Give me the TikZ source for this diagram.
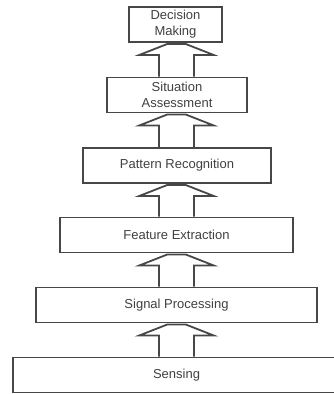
\documentclass[tikz,border=0pt]{standalone}
\usepackage{fontspec}
\setmainfont{Liberation Sans}
\usetikzlibrary{calc}
\begin{document}
\begin{tikzpicture}[x=1pt,y=-1pt,
  stage/.style={draw=black!72, line width=1.8pt, minimum height=35pt, inner sep=0pt,
    align=center, text=black!75, font=\fontsize{13}{16}\selectfont},
  blockarrow/.style={draw=black!72, line width=1.8pt, line join=miter}]
\useasboundingbox (0,0) rectangle (334,394);
\clip (0,0) rectangle (334,394);
\node[stage, minimum width=93pt]  (dm) at (175.5,24.5) {Decision\\Making};
\node[stage, minimum width=140pt] (sa) at (177,95) {Situation\\Assessment};
\node[stage, minimum width=188pt] (pr) at (177,165.5) {Pattern Recognition};
\node[stage, minimum width=233pt] (fe) at (176.5,235) {Feature Extraction};
\node[stage, minimum width=281pt] (sp) at (176.5,305) {Signal Processing};
\node[stage, minimum width=327pt] (se) at (176.5,375) {Sensing};
\foreach \lo/\up in {sa/dm, pr/sa, fe/pr, sp/fe, se/sp}{
  \draw[blockarrow]
    ($(\lo.north -| 176.5,0)+(-17.5,0)$) -- ($(\up.south -| 176.5,0)+(-17.5,12)$)
    -- ($(\up.south -| 176.5,0)+(-37,12)$) -- ($(\up.south -| 176.5,0)+(-9,1)$)
    -- ($(\up.south -| 176.5,0)+(9,1)$) -- ($(\up.south -| 176.5,0)+(37,12)$)
    -- ($(\up.south -| 176.5,0)+(17.5,12)$) -- ($(\lo.north -| 176.5,0)+(17.5,0)$);
}
\end{tikzpicture}
\end{document}
